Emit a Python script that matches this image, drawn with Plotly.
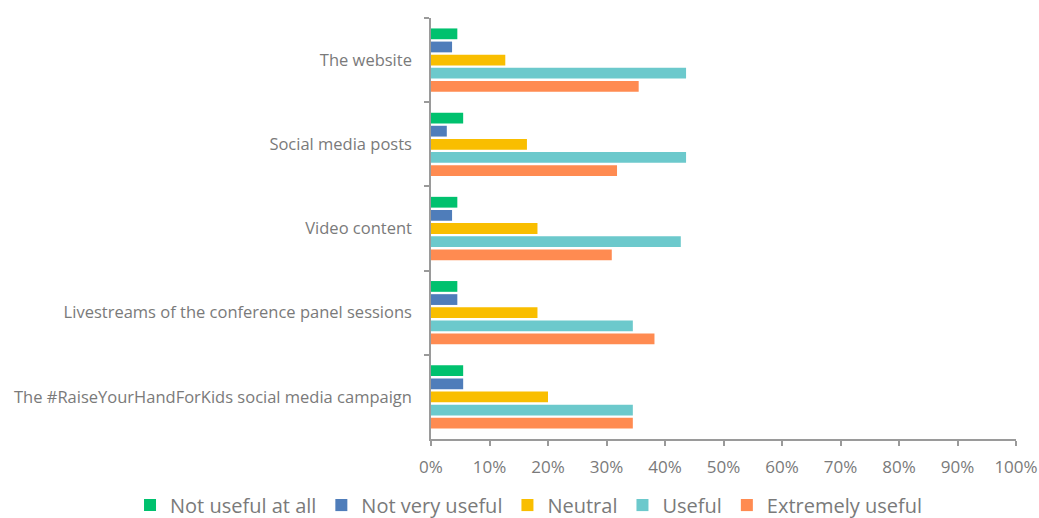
import plotly.graph_objects as go

channels = [
    "The website",
    "Social media posts",
    "Video content",
    "Livestreams of the conference panel sessions",
    "The #RaiseYourHandForKids social media campaign",
]

ratings = ["Not useful at all", "Not very useful", "Neutral", "Useful", "Extremely useful"]

not_useful_at_all = [4.5, 5.5, 4.5, 4.5, 5.5]
not_very_useful = [3.6, 2.7, 3.6, 4.5, 5.5]
neutral = [12.7, 16.4, 18.2, 18.2, 20.0]
useful = [43.6, 43.6, 42.7, 34.5, 34.5]
extremely_useful = [35.5, 31.8, 30.9, 38.2, 34.5]

series = [not_useful_at_all, not_very_useful, neutral, useful, extremely_useful]
colors = ["#00C16E", "#4F7DBA", "#F9BE00", "#6CC9CC", "#FF8B51"]

x_ticks = list(range(0, 101, 10))
x_tick_labels = [f"{v}%" for v in x_ticks]

fig = go.Figure()
for name, vals, col in zip(ratings, series, colors):
    fig.add_trace(go.Bar(
        y=channels, x=vals, name=name, orientation="h",
        marker=dict(color=col, line=dict(width=0)),
        hovertemplate="%{y}<br>" + name + ": %{x:.1f}%<extra></extra>",
    ))

font_family = "Open Sans, DejaVu Sans, sans-serif"
axis_grey = "#9A9A9A"
text_grey = "#7A7A7A"

fig.update_layout(
    width=1039, height=518,
    margin=dict(l=431, r=23, t=18, b=79, autoexpand=False),
    paper_bgcolor="white", plot_bgcolor="white",
    barmode="group", bargap=0.22, bargroupgap=0.18,
    font=dict(family=font_family, color=text_grey, size=16),
    showlegend=True,
    legend=dict(
        orientation="h", xref="paper", yref="paper",
        x=-0.5145, y=-0.157, xanchor="left", yanchor="middle",
        font=dict(size=20, color=text_grey),
        borderwidth=0, itemwidth=30, traceorder="normal",
    ),
    xaxis=dict(
        range=[0, 100], tickvals=x_ticks, ticktext=x_tick_labels,
        showgrid=False, zeroline=False,
        showline=True, linecolor=axis_grey, linewidth=1.5,
        ticks="outside", ticklen=5, tickcolor=axis_grey, tickwidth=1.5,
        ticklabelstandoff=7,
        tickfont=dict(size=17, color=text_grey),
    ),
    yaxis=dict(
        autorange="reversed", showgrid=False, zeroline=False,
        showline=True, linecolor=axis_grey, linewidth=1.5,
        ticks="outside", ticklen=5, tickcolor=axis_grey, tickwidth=1.5,
        tickson="boundaries", ticklabelstandoff=14,
        tickfont=dict(size=16.5, color=text_grey),
    ),
)

fig.write_html("out.html")
